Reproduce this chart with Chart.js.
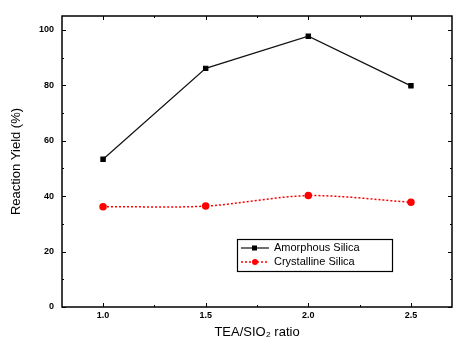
<!DOCTYPE html>
<html>
<head>
<meta charset="utf-8">
<script src="https://cdn.jsdelivr.net/npm/chart.js@4.4.0/dist/chart.umd.min.js"></script>
<style>
  html, body { margin: 0; padding: 0; background: #fff; }
  #wrap { width: 453px; height: 347px; }
</style>
</head>
<body>
<div id="wrap"><canvas id="yieldChart" width="453" height="347"></canvas></div>
<script>
// Data
const ratios = [1.0, 1.5, 2.0, 2.5];
const amorphousYield = [53.3, 86.1, 97.7, 79.8];
const crystallineYield = [36.2, 36.4, 40.2, 37.8];
const xTicks = [1.0, 1.5, 2.0, 2.5];
const xMinorTicks = [1.25, 1.75, 2.25];
const yTicks = [0, 20, 40, 60, 80, 100];
const yMinorTicks = [10, 30, 50, 70, 90];

const FONT = 'Liberation Sans, Arial, sans-serif';

// frame + inward ticks on all four sides
const framePlugin = {
    id: 'frame',
    afterDraw(chart) {
        const { ctx, chartArea: a, scales } = chart;
        ctx.save();
        ctx.strokeStyle = '#000';
        ctx.lineWidth = 1.5;
        ctx.strokeRect(a.left, a.top, a.right - a.left, a.bottom - a.top);
        ctx.lineWidth = 1;
        ctx.beginPath();
        const tick = (v, len, horiz) => {
            if (horiz) {
                const x = Math.round(scales.x.getPixelForValue(v)) + 0.5;
                ctx.moveTo(x, a.bottom); ctx.lineTo(x, a.bottom - len);
                ctx.moveTo(x, a.top); ctx.lineTo(x, a.top + len);
            } else {
                const y = Math.round(scales.y.getPixelForValue(v)) + 0.5;
                ctx.moveTo(a.left, y); ctx.lineTo(a.left + len, y);
                ctx.moveTo(a.right, y); ctx.lineTo(a.right - len, y);
            }
        };
        xTicks.forEach(v => tick(v, 4, true));
        xMinorTicks.forEach(v => tick(v, 2, true));
        yTicks.forEach(v => tick(v, 4, false));
        yMinorTicks.forEach(v => tick(v, 2, false));
        ctx.stroke();
        ctx.restore();
    }
};

// boxed legend inside the plot, lower right
const boxLegend = {
    id: 'boxLegend',
    afterDraw(chart) {
        const { ctx } = chart;
        const bx = 237, by = 239, bw = 155, bh = 32;
        ctx.save();
        ctx.strokeStyle = '#000';
        ctx.lineWidth = 1.2;
        ctx.strokeRect(bx + 0.5, by + 0.5, bw, bh);
        ctx.font = '11px ' + FONT;
        ctx.textBaseline = 'middle';
        ctx.fillStyle = '#000';

        chart.data.datasets.forEach((ds, i) => {
            const y = by + 9 + i * 14;
            ctx.save();
            ctx.strokeStyle = ds.borderColor;
            ctx.lineWidth = ds.borderWidth;
            ctx.setLineDash(ds.borderDash || []);
            ctx.beginPath();
            ctx.moveTo(bx + 4, y); ctx.lineTo(bx + 32, y);
            ctx.stroke();
            ctx.restore();
            ctx.fillStyle = ds.pointBackgroundColor;
            if (ds.pointStyle === 'rect') {
                ctx.fillRect(bx + 15, y - 2.5, 5, 5);
            } else {
                ctx.beginPath();
                ctx.arc(bx + 18, y, 3, 0, Math.PI * 2);
                ctx.fill();
            }
            ctx.fillStyle = '#000';
            ctx.fillText(ds.label, bx + 37, y);
        });
        ctx.restore();
    }
};

const ctx = document.getElementById('yieldChart').getContext('2d');
new Chart(ctx, {
    type: 'line',
    data: {
        datasets: [{
            label: 'Amorphous Silica',
            data: ratios.map((r, i) => ({ x: r, y: amorphousYield[i] })),
            borderColor: '#111',
            borderWidth: 1.2,
            pointStyle: 'rect',
            pointRadius: 3,
            pointBackgroundColor: '#000',
            pointBorderColor: '#000',
            tension: 0
        }, {
            label: 'Crystalline Silica',
            data: ratios.map((r, i) => ({ x: r, y: crystallineYield[i] })),
            borderColor: '#ff0000',
            borderWidth: 1.5,
            borderDash: [2, 2],
            pointStyle: 'circle',
            pointRadius: 3,
            pointBackgroundColor: '#ff0000',
            pointBorderColor: '#ff0000',
            tension: 0.3
        }]
    },
    options: {
        responsive: false,
        animation: false,
        layout: { autoPadding: false, padding: { top: 16, right: 1, left: 0, bottom: 0 } },
        plugins: {
            legend: { display: false },
            tooltip: { enabled: false }
        },
        scales: {
            x: {
                type: 'linear',
                min: 0.8,
                max: 2.7,
                afterBuildTicks: s => { s.ticks = xTicks.map(v => ({ value: v })); },
                afterFit: s => { s.height = 40; },
                grid: { display: false, drawTicks: false },
                border: { display: false },
                ticks: {
                    padding: 3,
                    color: '#000',
                    font: { family: FONT, size: 9, weight: 'bold' },
                    callback: v => v.toFixed(1)
                },
                title: {
                    display: true,
                    text: 'TEA/SIO\u2082 ratio',
                    color: '#000',
                    font: { family: FONT, size: 13 },
                    padding: { top: 0, bottom: 7 }
                }
            },
            y: {
                min: 0,
                max: 105,
                afterBuildTicks: s => { s.ticks = yTicks.map(v => ({ value: v })); },
                afterFit: s => { s.width = 62; },
                grid: { display: false, drawTicks: false },
                border: { display: false },
                ticks: {
                    padding: 8,
                    color: '#000',
                    font: { family: FONT, size: 9, weight: 'bold' }
                },
                title: {
                    display: true,
                    text: 'Reaction Yield (%)',
                    color: '#000',
                    font: { family: FONT, size: 13 },
                    padding: { top: 9, bottom: 0 }
                }
            }
        }
    },
    plugins: [framePlugin, boxLegend]
});
</script>
</body>
</html>
